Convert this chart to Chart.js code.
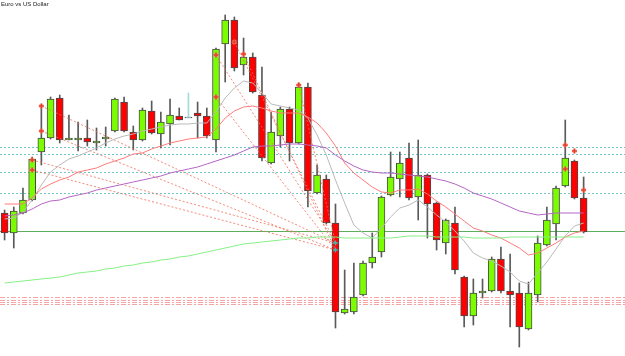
<!DOCTYPE html>
<html>
<head>
<meta charset="utf-8">
<title>Euro vs US Dollar</title>
<script src="https://cdn.jsdelivr.net/npm/chart.js@4.4.1/dist/chart.umd.min.js"></script>
<style>
  body { margin: 0; background: #fff; overflow: hidden; }
  #wrap { position: relative; width: 625px; height: 356px; }
  #title { position: absolute; left: 1px; top: 1px; font: 6px "Liberation Sans", Arial, sans-serif; color: #222; }
</style>
</head>
<body>
<div id="wrap">
  <canvas id="chart" width="625" height="356"></canvas>
  <div id="title">Euro vs US Dollar</div>
</div>
<script>
// candles, one per bar
const open  = [1.3787,1.3767,1.3787,1.3800,1.3848,1.3862,1.3902,1.3860,1.3860,1.3862,1.3857,1.3861,1.3869,1.3898,1.3868,1.3860,
               1.3889,1.3866,1.3876,1.3884,1.3882,1.3887,1.3884,1.3860,1.3956,1.3980,1.3935,1.3943,1.3905,1.3837,1.3864,1.3891,
               1.3857,1.3913,1.3807,1.3821,1.3777,1.3687,1.3688,1.3705,1.3737,1.3748,1.3805,1.3821,1.3842,1.3803,1.3825,1.3797,
               1.3757,1.3777,1.3723,1.3684,1.3707,1.3709,1.3741,1.3709,1.3707,1.3671,1.3705,1.3755,1.3776,1.3814,1.3839,1.3802]
const high  = [1.3790,1.3793,1.3812,1.3843,1.3895,1.3903,1.3905,1.3885,1.3878,1.3880,1.3872,1.3873,1.3902,1.3903,1.3874,1.3892,
               1.3899,1.3888,1.3901,1.3892,1.3907,1.3898,1.3892,1.3952,1.3985,1.3983,1.3962,1.3947,1.3933,1.3888,1.3893,1.3893,
               1.3917,1.3917,1.3835,1.3825,1.3796,1.3730,1.3737,1.3739,1.3767,1.3804,1.3848,1.3848,1.3857,1.3860,1.3826,1.3798,
               1.3781,1.3793,1.3724,1.3721,1.3721,1.3743,1.3753,1.3746,1.3717,1.3718,1.3764,1.3793,1.3814,1.3880,1.3840,1.3823]
const low   = [1.3760,1.3752,1.3786,1.3799,1.3835,1.3861,1.3857,1.3860,1.3849,1.3854,1.3850,1.3854,1.3868,1.3868,1.3850,1.3859,
               1.3866,1.3852,1.3855,1.3880,1.3882,1.3862,1.3862,1.3848,1.3918,1.3929,1.3925,1.3907,1.3839,1.3836,1.3853,1.3839,
               1.3856,1.3793,1.3806,1.3776,1.3672,1.3686,1.3686,1.3704,1.3732,1.3743,1.3804,1.3803,1.3800,1.3780,1.3762,1.3750,
               1.3746,1.3726,1.3673,1.3675,1.3702,1.3708,1.3707,1.3673,1.3653,1.3670,1.3698,1.3754,1.3760,1.3813,1.3801,1.3767]
const close = [1.3767,1.3789,1.3800,1.3841,1.3862,1.3901,1.3860,1.3862,1.3862,1.3858,1.3859,1.3863,1.3901,1.3869,1.3860,1.3890,
               1.3867,1.3878,1.3885,1.3880,1.3882,1.3884,1.3864,1.3951,1.3980,1.3932,1.3943,1.3908,1.3842,1.3868,1.3891,1.3857,
               1.3913,1.3809,1.3825,1.3777,1.3688,1.3691,1.3703,1.3737,1.3743,1.3803,1.3823,1.3837,1.3802,1.3825,1.3796,1.3760,
               1.3780,1.3730,1.3684,1.3707,1.3709,1.3741,1.3709,1.3705,1.3673,1.3707,1.3757,1.3780,1.3812,1.3842,1.3802,1.3768]

// moving averages
const maFast = [1.3781,1.3782,1.3788,1.3800,1.3815,1.3828,1.3835,1.3841,1.3844,1.3848,1.3852,1.3857,1.3861,1.3864,1.3866,1.3869,
                1.3871,1.3873,1.3875,1.3876,1.3876,1.3877,1.3877,1.3888,1.3902,1.3912,1.3919,1.3917,1.3907,1.3896,1.3894,1.3892,
                1.3890,1.3882,1.3865,1.3845,1.3820,1.3797,1.3775,1.3767,1.3762,1.3772,1.3783,1.3792,1.3795,1.3800,1.3793,1.3785,
                1.3778,1.3769,1.3759,1.3747,1.3742,1.3739,1.3734,1.3728,1.3719,1.3716,1.3727,1.3738,1.3751,1.3764,1.3774,1.3777]
const maMid  = [1.3796,1.3796,1.3796,1.3802,1.3811,1.3816,1.3820,1.3823,1.3828,1.3830,1.3832,1.3836,1.3839,1.3842,1.3846,1.3847,
                1.3851,1.3854,1.3857,1.3859,1.3861,1.3862,1.3863,1.3871,1.3882,1.3889,1.3893,1.3894,1.3892,1.3889,1.3887,1.3887,
                1.3887,1.3883,1.3877,1.3867,1.3854,1.3837,1.3827,1.3820,1.3813,1.3808,1.3807,1.3810,1.3810,1.3811,1.3806,1.3799,
                1.3793,1.3786,1.3779,1.3772,1.3769,1.3765,1.3762,1.3757,1.3752,1.3745,1.3747,1.3752,1.3757,1.3763,1.3767,1.3769]
const maSlow = [1.3784,1.3785,1.3787,1.3791,1.3796,1.3799,1.3800,1.3803,1.3805,1.3807,1.3810,1.3812,1.3814,1.3816,1.3818,1.3820,
                1.3822,1.3824,1.3827,1.3829,1.3831,1.3833,1.3836,1.3839,1.3842,1.3845,1.3849,1.3853,1.3854,1.3854,1.3855,1.3856,
                1.3856,1.3855,1.3854,1.3852,1.3845,1.3839,1.3834,1.3830,1.3828,1.3827,1.3827,1.3826,1.3825,1.3824,1.3823,1.3821,
                1.3819,1.3816,1.3812,1.3807,1.3804,1.3801,1.3797,1.3793,1.3789,1.3787,1.3785,1.3786,1.3787,1.3787,1.3787,1.3787]
const maLong = [1.3717,1.3718,1.3719,1.3720,1.3721,1.3722,1.3723,1.3725,1.3727,1.3728,1.3729,1.3731,1.3732,1.3734,1.3735,1.3737,
                1.3738,1.3740,1.3741,1.3743,1.3744,1.3746,1.3748,1.3750,1.3752,1.3754,1.3756,1.3757,1.3758,1.3759,1.3760,1.3761,
                1.3762,1.3762,1.3763,1.3763,1.3763,1.3762,1.3762,1.3762,1.3762,1.3762,1.3762,1.3763,1.3764,1.3764,1.3764,1.3763,
                1.3763,1.3763,1.3763,1.3762,1.3762,1.3762,1.3762,1.3763,1.3763,1.3763,1.3763,1.3763,1.3763,1.3763,1.3763,1.3763]

// horizontal price levels
const solidLevels  = [1.3769]
const dottedLevels = [1.3853, 1.3846, 1.3828, 1.3807]
const dashLevels   = [1.3703, 1.37005, 1.3698, 1.3696]

// fan lines: start bar + price, all end on bar 36
const fanStart      = [3, 3, 4, 4, 23, 23, 25, 26, 32]
const fanStartPrice = [1.3840, 1.3830, 1.3894, 1.3869, 1.3945, 1.3903, 1.3958, 1.3946, 1.3915]
const fanEndPrice   = [1.3757, 1.3750, 1.3757, 1.3750, 1.3757, 1.3750, 1.3757, 1.3750, 1.3757]
const fanEnd = 36

// signal markers
const markBar   = [3, 3, 4, 4, 23, 23, 25, 26, 32, 61, 61, 62, 63]
const markPrice = [1.3840, 1.3830, 1.3894, 1.3869, 1.3945, 1.3903, 1.3958, 1.3946, 1.3915, 1.3855, 1.3831, 1.3849, 1.3810]
const markBar2   = [36, 36]
const markPrice2 = [1.3757, 1.3750]

const emptyBars = 4 // space to the right of the last candle
const labels = Array.from({ length: open.length + emptyBars }, (_, i) => i)

const bodyColor = open.map((o, i) => close[i] > o ? '#7cfc00' : close[i] < o ? '#ff0000' : '#a6dada')
const wickColor = open.map((o, i) => close[i] === o ? '#a6dada' : '#5a5a5a')

const levelLines = {
  id: 'levelLines',
  beforeDatasetsDraw(chart) {
    const { ctx, chartArea, scales } = chart
    const draw = (v, color, dash) => {
      const y = Math.round(scales.y.getPixelForValue(v)) + 0.5
      ctx.save()
      ctx.strokeStyle = color
      ctx.lineWidth = 1
      ctx.setLineDash(dash)
      ctx.beginPath()
      ctx.moveTo(chartArea.left, y)
      ctx.lineTo(chartArea.right, y)
      ctx.stroke()
      ctx.restore()
    }
    dashLevels.forEach(v => draw(v, '#f5a3a3', [5, 2, 2, 2]))
    dottedLevels.forEach(v => draw(v, '#72c6c6', [2, 2]))
    solidLevels.forEach(v => draw(v, '#5cae5c', []))
  }
}

const fanSets = fanStart.map((s, i) => ({
  type: 'line',
  data: [{ x: s, y: fanStartPrice[i] }, { x: fanEnd, y: fanEndPrice[i] }],
  borderColor: 'rgba(240,110,90,0.8)',
  borderWidth: 1,
  borderDash: [2, 2],
  pointRadius: 0,
  order: 6
}))

const maLine = (data, color) => ({
  type: 'line',
  data: data,
  borderColor: color,
  borderWidth: 1,
  pointRadius: 0,
  tension: 0,
  order: 5
})

new Chart(document.getElementById('chart'), {
  data: {
    labels: labels,
    datasets: [
      {
        type: 'bar',
        data: open.map((o, i) => [low[i], high[i]]),
        backgroundColor: wickColor,
        barThickness: 1,
        grouped: false,
        order: 9
      },
      {
        type: 'bar',
        data: open.map((o, i) => [o, close[i]]),
        backgroundColor: bodyColor,
        borderColor: '#4a4a4a',
        borderWidth: 1,
        borderSkipped: false,
        barThickness: 7,
        minBarLength: 1,
        grouped: false,
        order: 8
      },
      maLine(maLong, '#86f086'),
      maLine(maSlow, '#b565c4'),
      maLine(maMid, '#ff7a7a'),
      maLine(maFast, '#b9b9b9'),
      ...fanSets,
      {
        type: 'line',
        data: markBar.map((b, i) => ({ x: b, y: markPrice[i] })),
        showLine: false,
        pointStyle: 'circle',
        pointRadius: 2.5,
        pointBackgroundColor: 'rgba(255,150,130,0.75)',
        pointBorderWidth: 0,
        order: 2
      },
      {
        type: 'line',
        data: markBar.map((b, i) => ({ x: b, y: markPrice[i] })),
        showLine: false,
        pointStyle: 'cross',
        pointRadius: 2.5,
        pointBorderColor: '#e8402a',
        pointBorderWidth: 1.5,
        order: 1
      },
      {
        type: 'line',
        data: markBar2.map((b, i) => ({ x: b, y: markPrice2[i] })),
        showLine: false,
        pointStyle: 'cross',
        pointRadius: 2.5,
        pointBorderColor: '#3fb4b4',
        pointBorderWidth: 1.5,
        order: 1
      }
    ]
  },
  options: {
    responsive: false,
    animation: false,
    layout: { padding: 0, autoPadding: false },
    plugins: {
      legend: { display: false },
      tooltip: { enabled: false }
    },
    scales: {
      x: { type: 'category', display: false, offset: true },
      y: { display: false, min: 1.3644, max: 1.4000 }
    }
  },
  plugins: [levelLines]
})
</script>
</body>
</html>
